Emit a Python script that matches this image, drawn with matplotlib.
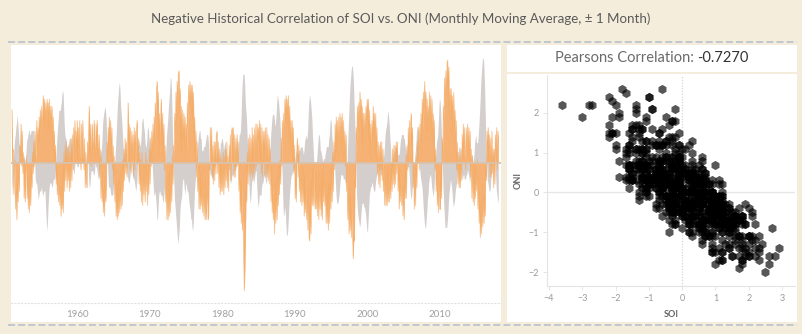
import numpy as np
import pandas as pd
import matplotlib
matplotlib.use("Agg")
import matplotlib.pyplot as plt
from matplotlib.lines import Line2D
from matplotlib.patches import Rectangle

W, H = 802, 334

# ONI (Niño 3.4, 3-month running mean), one row per year, Jan 1951 .. Jan 2018
oni_1950s = [
    -0.8, -0.5, -0.2, 0.2, 0.4, 0.6, 0.7, 0.9, 1.0, 1.2, 1.0, 0.8,
    0.5, 0.4, 0.3, 0.3, 0.2, 0.0, -0.1, 0.0, 0.2, 0.1, 0.0, 0.1,
    0.4, 0.6, 0.6, 0.7, 0.8, 0.8, 0.7, 0.7, 0.8, 0.8, 0.8, 0.8,
    0.8, 0.5, 0.0, -0.4, -0.5, -0.5, -0.6, -0.8, -0.9, -0.8, -0.7, -0.7,
    -0.7, -0.6, -0.7, -0.8, -0.8, -0.7, -0.7, -0.7, -1.1, -1.4, -1.7, -1.5,
    -1.1, -0.8, -0.6, -0.5, -0.5, -0.5, -0.6, -0.6, -0.5, -0.4, -0.4, -0.4,
    -0.2, 0.1, 0.4, 0.7, 0.9, 1.1, 1.3, 1.3, 1.3, 1.4, 1.5, 1.7,
    1.8, 1.7, 1.3, 0.9, 0.7, 0.6, 0.6, 0.4, 0.4, 0.4, 0.5, 0.6,
    0.6, 0.6, 0.5, 0.3, 0.2, -0.1, -0.2, -0.3, -0.1, 0.0, 0.0, 0.0,
]
oni_1960s = [
    -0.1, -0.1, -0.1, 0.0, 0.0, 0.0, 0.1, 0.2, 0.3, 0.2, 0.1, 0.1,
    0.0, 0.0, 0.0, 0.1, 0.2, 0.3, 0.1, -0.3, -0.6, -0.6, -0.4, -0.2,
    -0.2, -0.2, -0.2, -0.3, -0.3, -0.2, 0.0, -0.1, -0.1, -0.2, -0.3, -0.4,
    -0.4, -0.2, 0.2, 0.3, 0.3, 0.5, 0.9, 1.1, 1.2, 1.3, 1.4, 1.3,
    1.1, 0.6, 0.1, -0.3, -0.6, -0.6, -0.6, -0.7, -0.8, -0.8, -0.8, -0.8,
    -0.6, -0.3, -0.1, 0.2, 0.5, 0.8, 1.2, 1.5, 1.7, 1.9, 2.0, 1.8,
    1.4, 1.2, 1.0, 0.7, 0.4, 0.2, 0.2, 0.1, -0.1, -0.1, -0.2, -0.3,
    -0.4, -0.5, -0.5, -0.4, -0.2, 0.0, 0.0, -0.2, -0.3, -0.4, -0.4, -0.5,
    -0.6, -0.7, -0.6, -0.4, 0.0, 0.3, 0.6, 0.5, 0.4, 0.5, 0.7, 1.0,
    1.1, 1.1, 0.9, 0.8, 0.6, 0.4, 0.4, 0.5, 0.8, 0.9, 0.8, 0.6,
]
oni_1970s = [
    0.5, 0.3, 0.3, 0.2, 0.0, -0.3, -0.6, -0.8, -0.8, -0.7, -0.9, -1.1,
    -1.4, -1.4, -1.1, -0.8, -0.7, -0.7, -0.8, -0.8, -0.8, -0.9, -1.0, -0.9,
    -0.7, -0.4, 0.1, 0.4, 0.7, 0.9, 1.1, 1.4, 1.6, 1.8, 2.1, 2.1,
    1.8, 1.2, 0.5, -0.1, -0.5, -0.9, -1.1, -1.3, -1.5, -1.7, -1.9, -2.0,
    -1.8, -1.6, -1.2, -1.0, -0.9, -0.8, -0.5, -0.4, -0.4, -0.6, -0.8, -0.6,
    -0.5, -0.6, -0.7, -0.7, -0.8, -1.0, -1.1, -1.2, -1.4, -1.4, -1.6, -1.7,
    -1.5, -1.1, -0.7, -0.5, -0.3, -0.1, 0.2, 0.4, 0.6, 0.7, 0.8, 0.8,
    0.6, 0.6, 0.3, 0.3, 0.3, 0.4, 0.4, 0.4, 0.5, 0.6, 0.7, 0.7,
    0.7, 0.5, 0.1, -0.2, -0.3, -0.3, -0.3, -0.4, -0.4, -0.3, -0.1, -0.1,
    -0.1, 0.1, 0.2, 0.3, 0.2, 0.0, 0.0, 0.2, 0.3, 0.5, 0.5, 0.6,
]
oni_1980s = [
    0.6, 0.5, 0.3, 0.4, 0.5, 0.5, 0.3, 0.0, -0.1, 0.0, 0.1, 0.0,
    -0.3, -0.5, -0.5, -0.4, -0.3, -0.3, -0.3, -0.2, -0.2, -0.1, -0.2, -0.1,
    0.0, 0.1, 0.2, 0.5, 0.7, 0.7, 0.8, 1.1, 1.6, 2.0, 2.2, 2.2,
    2.2, 1.9, 1.5, 1.3, 1.1, 0.7, 0.3, -0.1, -0.5, -0.8, -1.0, -0.9,
    -0.6, -0.4, -0.3, -0.4, -0.5, -0.4, -0.3, -0.2, -0.2, -0.6, -0.9, -1.1,
    -1.0, -0.8, -0.8, -0.8, -0.8, -0.6, -0.5, -0.5, -0.4, -0.3, -0.3, -0.4,
    -0.5, -0.5, -0.3, -0.2, -0.1, 0.0, 0.2, 0.4, 0.7, 0.9, 1.1, 1.2,
    1.2, 1.2, 1.1, 0.9, 1.0, 1.2, 1.5, 1.7, 1.6, 1.5, 1.3, 1.1,
    0.8, 0.5, 0.1, -0.3, -0.9, -1.3, -1.3, -1.1, -1.2, -1.5, -1.8, -1.8,
    -1.7, -1.4, -1.1, -0.8, -0.6, -0.4, -0.3, -0.3, -0.2, -0.2, -0.2, -0.1,
]
oni_1990s = [
    0.1, 0.2, 0.3, 0.3, 0.2, 0.2, 0.3, 0.3, 0.4, 0.3, 0.4, 0.4,
    0.4, 0.3, 0.2, 0.3, 0.5, 0.6, 0.7, 0.6, 0.6, 0.8, 1.2, 1.5,
    1.7, 1.6, 1.5, 1.3, 1.1, 0.7, 0.4, 0.1, -0.1, -0.2, -0.3, -0.1,
    0.1, 0.3, 0.5, 0.7, 0.7, 0.6, 0.3, 0.3, 0.2, 0.1, 0.0, 0.1,
    0.1, 0.1, 0.2, 0.3, 0.4, 0.4, 0.4, 0.4, 0.6, 0.7, 1.0, 1.1,
    1.0, 0.7, 0.5, 0.3, 0.1, 0.0, -0.2, -0.5, -0.8, -1.0, -1.0, -1.0,
    -0.9, -0.8, -0.6, -0.4, -0.3, -0.3, -0.3, -0.3, -0.4, -0.4, -0.4, -0.5,
    -0.5, -0.4, -0.1, 0.3, 0.8, 1.2, 1.6, 1.9, 2.1, 2.3, 2.4, 2.4,
    2.2, 1.9, 1.4, 1.0, 0.5, -0.1, -0.8, -1.1, -1.3, -1.4, -1.5, -1.6,
    -1.5, -1.3, -1.1, -1.0, -1.0, -1.0, -1.1, -1.1, -1.2, -1.3, -1.5, -1.7,
]
oni_2000s = [
    -1.7, -1.4, -1.1, -0.8, -0.7, -0.6, -0.6, -0.5, -0.5, -0.6, -0.7, -0.7,
    -0.7, -0.5, -0.4, -0.3, -0.3, -0.1, -0.1, -0.1, -0.2, -0.3, -0.3, -0.3,
    -0.1, 0.0, 0.1, 0.2, 0.4, 0.7, 0.8, 0.9, 1.0, 1.2, 1.3, 1.1,
    0.9, 0.6, 0.4, 0.0, -0.3, -0.2, 0.1, 0.2, 0.3, 0.3, 0.4, 0.4,
    0.4, 0.3, 0.2, 0.2, 0.2, 0.3, 0.5, 0.6, 0.7, 0.7, 0.7, 0.7,
    0.6, 0.6, 0.4, 0.4, 0.3, 0.1, -0.1, -0.1, -0.1, -0.3, -0.6, -0.8,
    -0.9, -0.8, -0.6, -0.4, -0.1, 0.0, 0.1, 0.3, 0.5, 0.8, 0.9, 0.9,
    0.7, 0.2, -0.1, -0.3, -0.4, -0.5, -0.6, -0.8, -1.1, -1.3, -1.5, -1.6,
    -1.6, -1.4, -1.2, -0.9, -0.8, -0.5, -0.4, -0.3, -0.3, -0.4, -0.6, -0.7,
    -0.8, -0.8, -0.6, -0.3, 0.0, 0.3, 0.5, 0.6, 0.7, 1.0, 1.4, 1.6,
]
oni_2010s = [
    1.5, 1.2, 0.8, 0.4, -0.2, -0.7, -1.0, -1.3, -1.6, -1.6, -1.6, -1.6,
    -1.4, -1.2, -0.9, -0.7, -0.6, -0.4, -0.5, -0.6, -0.8, -1.0, -1.1, -1.0,
    -0.9, -0.7, -0.6, -0.5, -0.3, 0.0, 0.2, 0.4, 0.4, 0.3, 0.1, -0.2,
    -0.4, -0.4, -0.3, -0.3, -0.4, -0.4, -0.4, -0.3, -0.3, -0.2, -0.2, -0.3,
    -0.4, -0.5, -0.3, 0.0, 0.2, 0.2, 0.0, 0.1, 0.2, 0.5, 0.6, 0.7,
    0.5, 0.5, 0.5, 0.7, 0.9, 1.2, 1.5, 1.9, 2.2, 2.4, 2.6, 2.6,
    2.5, 2.1, 1.6, 0.9, 0.4, -0.1, -0.4, -0.5, -0.6, -0.7, -0.7, -0.6,
    -0.3, -0.2, 0.1, 0.2, 0.3, 0.3, 0.1, -0.1, -0.4, -0.7, -0.8, -1.0,
    -0.9,
]

soi_1950s = [
    1.5, 0.3, 0.4, -0.9, -0.2, 0.1, -1.3, -0.5, -1.6, -0.6, -1.1, -0.1,
    -0.8, 0.5, 0.2, 1.1, -0.1, 0.9, -0.3, 0.3, -1.0, 0.1, -1.1, -0.2,
    0.2, -1.0, -0.1, -1.3, -0.4, -1.4, -0.3, -1.2, -0.2, -0.7, 0.3, -0.3,
    0.6, -0.1, 0.9, 0.2, 0.0, 1.2, 0.3, 1.0, 0.5, 1.3, 0.6, 1.5,
    0.7, 1.6, 0.8, 1.5, 1.9, 1.2, 1.8, 1.0, 1.7, 1.1, 1.8, 0.9,
    1.7, 1.0, 1.8, 0.8, 1.6, 1.0, 1.6, 0.7, 1.3, 0.3, 0.9, 0.0,
    0.5, -0.6, 0.0, -0.9, -0.1, -1.1, -0.3, -1.2, -0.5, -1.5, -0.7, -1.3,
    -0.3, -1.4, 0.3, -0.8, 0.5, -0.5, 0.6, -0.7, 0.4, -0.5, 0.5, -0.8,
    0.3, -0.7, 0.7, -0.5, 0.8, -0.2, 1.0, 0.2, 1.2, 0.0, 0.9, 0.3,
]
soi_1960s = [
    1.2, 0.1, 1.0, 0.0, 1.2, 0.2, -0.2, 1.1, 0.0, 1.2, 0.3, -0.2,
    0.7, -0.7, 0.3, -0.5, -0.7, 0.6, 0.3, 1.2, 1.6, 0.3, 1.1, -0.1,
    0.7, 1.1, 0.3, 0.6, 1.2, 0.5, 0.2, 1.1, 0.4, 1.2, 0.5, 0.1,
    0.8, -0.4, 0.4, -1.0, 0.2, -1.1, -0.3, -1.4, -0.7, -1.5, -0.4, -1.1,
    -0.7, 0.6, 0.0, 1.0, 0.3, 1.3, 0.4, 1.2, 0.2, 1.0, -0.2, 0.5,
    -0.6, 0.2, -1.1, -0.2, -1.5, -0.6, -1.6, -0.7, -1.5, -0.5, -1.4, -0.3,
    -1.3, -0.1, -1.2, 0.1, -0.8, 0.4, -0.5, 0.7, -0.3, 0.6, -0.4, 0.6,
    1.7, 0.5, 1.1, -0.2, 1.0, -0.3, 0.9, 0.1, 0.8, -0.4, 1.0, -0.2,
    0.9, 0.1, 1.0, 1.2, 0.2, 0.7, -0.6, 0.3, -0.8, 0.1, -1.1, 0.3,
    -1.2, 0.0, -0.9, -0.1, -1.1, 0.3, -0.8, 0.1, -1.2, -0.1, -0.9, 0.4,
]
soi_1970s = [
    -0.6, 0.7, -0.1, 0.9, 0.0, 1.1, 0.1, 1.3, 0.5, 1.7, 1.1, 2.1,
    2.3, 1.4, 2.0, 0.6, 1.4, 0.2, 1.5, 1.8, 0.5, 1.4, 0.2, 1.1,
    -0.2, 0.5, -1.1, -0.4, -1.6, -0.5, -1.6, -0.3, -1.5, -0.2, -1.4, -0.2,
    -1.1, 0.2, -0.6, 0.5, 0.0, 1.4, 0.8, 2.0, 1.2, 2.3, 1.7, 2.5,
    2.6, 1.7, 2.1, 0.7, 1.6, 0.3, 1.5, 0.3, 1.4, 0.5, 1.3, 0.0,
    1.1, 0.3, 1.7, 0.9, 2.2, 1.4, 2.3, 1.6, 2.2, 1.4, 2.2, 1.2,
    2.0, 0.7, 1.3, 0.0, 0.9, -0.4, 0.6, -0.8, -0.1, -1.3, -0.1, -1.3,
    -0.3, -1.2, -0.5, -1.4, -0.1, -1.5, -0.6, -1.6, -0.5, -1.6, -1.1, -0.7,
    -1.6, -1.5, -0.1, -0.2, 1.0, 0.1, 1.0, -0.4, 0.5, -0.6, 0.6, -0.5,
    0.6, -0.3, 0.8, 0.9, -0.3, 0.6, -0.7, 0.4, -0.9, 0.2, -0.8, 0.1,
]
soi_1980s = [
    -0.8, 0.3, -0.9, 0.2, -0.7, 0.4, -0.5, 0.6, -0.7, 0.2, -0.8, 0.5,
    -0.2, 0.8, -0.5, 0.9, 1.0, 0.1, 1.0, -0.4, 0.8, -0.4, 0.7, -0.1,
    0.8, -0.1, 0.6, -0.8, -0.1, -1.4, -0.5, -1.7, -0.6, -1.9, -1.4, -2.8,
    -3.6, -3.0, -2.2, -0.7, -1.1, 0.3, -0.6, 0.7, -0.3, 0.8, -0.4, 0.7,
    -0.3, 1.0, -0.5, 0.8, -0.3, 1.0, -0.2, 1.1, -0.1, 1.1, 0.0, 1.0,
    0.6, 1.2, 0.2, 1.1, -0.3, 1.0, -0.4, 0.9, 0.0, 0.9, -0.4, 1.0,
    -0.3, 1.0, -0.4, 0.8, -0.5, 0.7, -0.6, 0.4, -1.1, -0.1, -1.4, -0.6,
    -1.6, -0.9, -2.0, -0.6, -1.7, -0.5, -1.6, -0.4, -1.2, -0.1, -0.9, 0.1,
    -0.6, 0.7, -0.1, 1.2, 0.5, 1.4, 0.6, 1.8, 1.2, 1.9, 1.0, 1.8,
    1.1, 1.9, 0.8, 1.6, 0.4, 1.2, 0.3, 1.2, 0.1, 1.0, -0.3, 0.5,
]
soi_1990s = [
    -1.0, -0.3, -1.1, 0.5, 0.7, -0.4, 0.5, -0.8, -0.1, -1.1, -0.1, -1.2,
    -0.1, -1.1, -0.2, -1.5, -0.4, -1.4, -0.3, -1.6, -0.7, -1.9, -0.8, -2.1,
    -2.2, -1.2, -2.0, -0.5, -1.2, -0.2, -1.2, -0.1, -1.0, -1.3, -0.3, -1.3,
    -0.3, -1.5, -0.4, -1.6, -0.3, -1.3, -0.4, -1.5, -0.5, -1.6, -0.3, -1.1,
    0.0, -1.2, -0.5, -1.7, -0.6, -1.7, -0.9, -1.9, -0.6, -1.7, -0.2, -1.3,
    -0.1, -1.1, 0.3, -0.8, 0.6, -0.2, 1.1, 0.1, 1.3, 0.3, 1.2, 0.2,
    1.3, 0.2, 1.4, 0.3, 1.3, 0.2, 1.4, 0.4, 1.2, 0.0, 0.9, -0.1,
    0.8, -0.8, -0.2, -1.6, -0.7, -2.0, -0.9, -1.9, -0.9, -2.1, -1.0, -2.2,
    -2.7, -2.1, -2.2, -0.5, -0.7, 1.0, 0.6, 1.6, 0.9, 1.7, 0.9, 2.0,
    1.2, 1.8, 0.9, 1.6, 0.5, 1.4, 0.3, 1.4, 0.6, 1.6, 1.0, 1.8,
]
soi_2000s = [
    1.2, 1.8, 0.7, 1.5, 0.2, 1.1, 0.0, 1.2, 0.5, 1.6, 0.7, 1.4,
    0.6, 1.4, 0.2, 1.0, -0.3, 0.6, -0.6, 0.5, -0.7, 0.6, -0.2, 0.6,
    -0.5, 0.4, -0.8, -0.1, -1.2, -0.1, -1.2, -0.3, -1.2, -0.1, -1.1, -0.2,
    -1.1, -0.2, -1.0, 0.0, -0.8, 0.4, -0.6, 0.5, -0.7, 0.5, -0.6, 0.6,
    -0.3, 0.6, -0.8, -0.1, -1.3, -0.2, -1.1, -0.2, -1.2, -0.3, -1.5, -0.7,
    -1.6, -0.3, -1.0, 0.2, -1.0, 0.5, -0.2, 1.0, 0.0, 1.2, 0.1, 1.2,
    1.4, 0.5, 1.0, -0.7, -0.1, -1.3, -0.3, -1.2, 0.2, -0.7, 0.6, 0.0,
    1.0, -0.2, 1.1, 0.4, 1.4, 0.6, 1.8, 0.9, 2.0, 1.3, 2.3, 1.5,
    2.0, 0.9, 1.8, 0.6, 1.6, 0.9, 2.0, 0.9, 1.9, 0.7, 1.8, 0.6,
    1.4, 0.4, 1.2, -0.2, 0.4, -0.8, -0.1, -1.2, -0.3, -1.4, -0.2, -1.3,
]
soi_2010s = [
    -1.3, -0.3, -1.0, 0.7, 0.2, 1.6, 1.2, 2.4, 1.5, 2.6, 1.9, 2.8,
    2.9, 2.2, 2.7, 1.4, 2.1, 0.9, 2.1, 1.2, 1.9, 0.7, 2.0, 0.9,
    1.5, 0.4, 1.2, -0.2, 0.6, -0.6, 0.3, -0.7, 0.2, -0.7, 0.4, -0.5,
    0.8, 0.1, 1.1, 0.1, 1.0, 0.2, -0.2, 1.0, 0.0, 1.1, 0.2, 1.0,
    0.0, 0.9, -0.4, 0.4, -1.0, 0.2, -1.1, 0.0, -1.2, -0.1, -1.0, 0.0,
    -0.8, 0.1, -1.3, -0.4, -1.7, -0.8, -2.1, -1.1, -2.0, -1.0, -1.8, -0.6,
    -1.7, -0.9, -1.5, -0.1, -0.5, 0.9, 0.3, 1.0, 0.1, 0.8, -0.4, 0.7,
    -0.4, 0.9, -0.3, 0.4, -0.7, 0.4, -0.6, 0.8, 0.1, 1.0, -0.2, 0.9,
    0.6,
]

year_ticks = [1960, 1970, 1980, 1990, 2000, 2010]
soi_ticks = [-4, -3, -2, -1, 0, 1, 2, 3]
oni_ticks = [-2, -1, 0, 1, 2]

TITLE = "Negative Historical Correlation of SOI vs. ONI (Monthly Moving Average, \u00b1 1 Month)"
CORR_LABEL = "Pearsons Correlation:"
CORR_VALUE = "-0.7270"

BG = "#f5eddc"
GREY = "#d4cecc"
ORANGE = "#f6b274"
ORANGE_EDGE = "#f3a04c"

oni = np.array(oni_1950s + oni_1960s + oni_1970s + oni_1980s + oni_1990s + oni_2000s + oni_2010s)
soi = np.array(soi_1950s + soi_1960s + soi_1970s + soi_1980s + soi_1990s + soi_2000s + soi_2010s)
months = pd.date_range("1951-01-01", periods=len(oni), freq="MS")


def fx(px):
    return px / W


def fy(py):
    return 1 - py / H


def rect(x0, y0, x1, y1):
    return [fx(x0), fy(y1), (x1 - x0) / W, (y1 - y0) / H]


def panel(x0, y0, x1, y1, color):
    fig.add_artist(Rectangle((fx(x0), fy(y1)), (x1 - x0) / W, (y1 - y0) / H,
                             transform=fig.transFigure, facecolor=color,
                             edgecolor="none", zorder=-5))


plt.rcParams["font.family"] = ["Lato", "DejaVu Sans"]

fig = plt.figure(figsize=(W / 100, H / 100), dpi=100, facecolor=BG)

# white panels and dashed separators
panel(10.5, 44.7, 501, 322, "white")
panel(507, 44.7, 797, 322, "white")
panel(507, 72, 797, 74, BG)
for ypx in (42, 325):
    fig.add_artist(Line2D([fx(8), fx(797)], [fy(ypx), fy(ypx)], color="#bcc6cd",
                          lw=1.3, ls=(0, (3.9, 1.7)), zorder=-4))

fig.text(0.5, fy(19), TITLE, ha="center", va="center", fontsize=9.6, color="#5a5a5a")
fig.text(fx(694), fy(58), CORR_LABEL, ha="right", va="center", fontsize=10.5, color="#6a6a6a")
fig.text(fx(697), fy(58), CORR_VALUE, ha="left", va="center", fontsize=10.5, color="#333333")

# time series: ONI on the main axis, SOI on its own (dual) axis
ax = fig.add_axes(rect(10.5, 44.7, 501, 303))
ax.set_facecolor("none")
ax.fill_between(months, 0, oni, color=GREY, lw=0)
ax.set_ylim(-3.48, 2.93)
ax.set_xlim(pd.Timestamp("1950-11-01"), pd.Timestamp("2018-05-20"))
ax.set_xticks([pd.Timestamp(f"{y}-01-01") for y in year_ticks])
ax.set_xticklabels([str(y) for y in year_ticks])
ax.tick_params(axis="x", length=0, pad=5, labelsize=7, labelcolor="#a0a0a0")
ax.set_yticks([])
for s in ("top", "right", "left"):
    ax.spines[s].set_visible(False)
ax.spines["bottom"].set_color("#e2e2e2")
ax.spines["bottom"].set_linestyle((0, (1, 2)))
ax.spines["bottom"].set_linewidth(0.8)

ax2 = ax.twinx()
ax2.fill_between(months, 0, soi, color=ORANGE, lw=0.3, edgecolor=ORANGE)
ax2.plot(months, soi, color=ORANGE_EDGE, lw=0.4, alpha=0.45)
ax2.axhline(0, color="#d8c3ad", lw=1.3)
k = 40.3 / 35.5
ax2.set_ylim(-3.48 * k, 2.93 * k)
ax2.set_yticks([])
for s in ax2.spines.values():
    s.set_visible(False)

# scatter SOI vs ONI
sc = fig.add_axes(rect(547, 75, 795, 286))
sc.set_facecolor("none")
sc.axhline(0, color="#e6e6e6", lw=1, zorder=0)
sc.axvline(0, color="#cfcfcf", lw=0.8, ls=(0, (1, 1.5)), zorder=0)
sc.scatter(soi, oni, s=44, marker="h", c="black", alpha=0.66, linewidths=0, zorder=2)
sc.set_xlim(-4.06, 3.39)
sc.set_ylim(-2.34, 2.94)
sc.set_xticks(soi_ticks)
sc.set_yticks(oni_ticks)
sc.tick_params(length=3, width=0.6, color="#e0e0e0", labelsize=6.5, labelcolor="#9a9a9a", pad=3)
for s in ("top", "right"):
    sc.spines[s].set_visible(False)
for s in ("left", "bottom"):
    sc.spines[s].set_color("#e3e3e3")
    sc.spines[s].set_linewidth(0.8)
sc.set_xlabel("SOI", fontsize=6.5, color="#666666", fontweight="bold", labelpad=5)
sc.set_ylabel("ONI", fontsize=6.5, color="#666666", fontweight="bold", labelpad=4)

fig.savefig("out.png", dpi=100, facecolor=BG)
